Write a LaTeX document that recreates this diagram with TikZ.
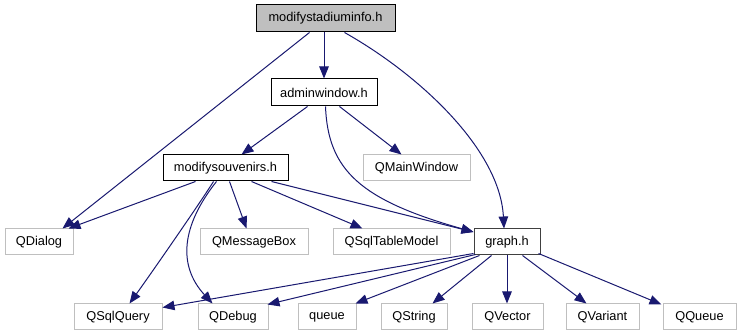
\documentclass[tikz,border=0pt]{standalone}
\usepackage{fontspec}
\setmainfont{Liberation Sans}
\usetikzlibrary{arrows.meta,calc}
\definecolor{edgeblue}{HTML}{191970}
\definecolor{boxgray}{HTML}{BFBFBF}
\tikzset{
  filebox/.style={draw=black, line width=1pt, minimum height=26pt, inner sep=0pt,
    font=\fontsize{12.8}{15}\selectfont},
  extbox/.style={filebox, draw=boxgray},
  rootbox/.style={filebox, fill=boxgray},
  dep/.style={draw=edgeblue, line width=1pt,
    -{Triangle[length=12pt,width=9.5pt]}},
}
\begin{document}
\begin{tikzpicture}[x=1pt,y=-1pt]
\useasboundingbox[fill=white] (0,0) rectangle (740,336);

% header files of the project
\node[rootbox, minimum width=139pt, minimum height=27pt] (msi) at (325.5,18.5) {modifystadiuminfo.h};
\node[filebox, minimum width=106pt, minimum height=27pt] (aw) at (324,92.5) {adminwindow.h};
\node[filebox, minimum width=125pt] (msv) at (225.5,168) {modifysouvenirs.h};
\node[filebox, draw=black!75, minimum width=66pt] (graph) at (507,242) {graph.h};

% external (Qt / std) headers
\node[extbox, minimum width=107pt] (qmw) at (416.5,168) {QMainWindow};
\node[extbox, minimum width=68pt] (qdialog) at (39,242) {QDialog};
\node[extbox, minimum width=108pt] (qmb) at (254,242) {QMessageBox};
\node[extbox, minimum width=117pt] (qstm) at (391.5,242) {QSqlTableModel};
\node[extbox, minimum width=88pt] (qsq) at (118,317) {QSqlQuery};
\node[extbox, minimum width=70pt] (qdebug) at (233,317) {QDebug};
\node[extbox, minimum width=58pt] (queue) at (327,317) {queue};
\node[extbox, minimum width=66pt] (qstring) at (414,317) {QString};
\node[extbox, minimum width=71pt] (qvector) at (507.5,317) {QVector};
\node[extbox, minimum width=73pt] (qvariant) at (602.5,317) {QVariant};
\node[extbox, minimum width=73pt] (qqueue) at (699.5,317) {QQueue};

% includes of modifystadiuminfo.h
\draw[dep] (msi.south -| aw) -- (aw.north);
\draw[dep] ($(msi.south west)+(54,0)$) -- ($(qdialog.north east)+(-11,0)$);
\draw[dep] ($(msi.south west)+(89,0)$) .. controls (420,75) and (500,150) .. ($(graph.north)+(-3,0)$);

% includes of adminwindow.h
\draw[dep] ($(aw.south west)+(37,0)$) -- ($(msv.north west)+(79,0)$);
\draw[dep] ($(aw.south west)+(69,0)$) -- ($(qmw.north west)+(39,0)$);
\draw[dep] ($(aw.south west)+(55,0)$) .. controls (328,170) and (360,200) .. ($(graph.west)+(0,-10)$);

% includes of modifysouvenirs.h
\draw[dep] ($(msv.south west)+(33,0)$) -- ($(qdialog.north east)+(-5,0)$);
\draw[dep] ($(msv.south west)+(67,0)$) -- ($(qmb.north west)+(47,0)$);
\draw[dep] ($(msv.south west)+(89,0)$) -- ($(qstm.north west)+(30,0)$);
\draw[dep] ($(msv.south west)+(109,0)$) -- ($(graph.west)+(0,-10)$);
\draw[dep] ($(msv.south west)+(51,0)$) .. controls (198,206) and (150,275) .. ($(qsq.north west)+(56,0)$);
\draw[dep] ($(msv.south west)+(54,0)$) .. controls (182,225) and (177,265) .. ($(qdebug.north west)+(15,0)$);

% includes of graph.h
\draw[dep] ($(graph.south west)+(0,-2)$) -- ($(qsq.north east)+(0,4)$);
\draw[dep] ($(graph.south west)+(2,-1)$) -- ($(qdebug.north east)+(-1,1)$);
\draw[dep] ($(graph.south west)+(6,0)$) -- ($(queue.north east)+(-1,0)$);
\draw[dep] ($(graph.south west)+(18,0)$) -- ($(qstring.north west)+(52,0)$);
\draw[dep] (graph.south) -- (graph.south |- qvector.north);
\draw[dep] ($(graph.south west)+(49,0)$) -- ($(qvariant.north west)+(21,0)$);
\draw[dep] ($(graph.south east)+(-2,-2)$) -- ($(qqueue.north west)+(-1,1)$);
\end{tikzpicture}
\end{document}
